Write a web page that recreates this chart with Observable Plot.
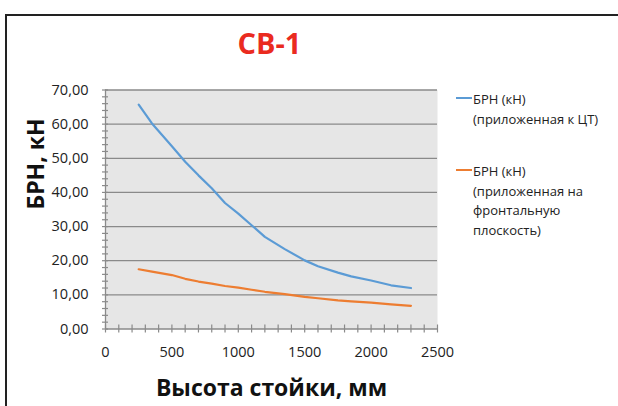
<!DOCTYPE html>
<html>
<head>
<meta charset="utf-8">
<script src="https://cdn.jsdelivr.net/npm/d3@7"></script>
<script src="https://cdn.jsdelivr.net/npm/@observablehq/plot@0.6"></script>
<style>
  html, body { margin: 0; padding: 0; background: #fff; overflow: hidden; }
  #wrap { position: relative; width: 618px; height: 406px; font-family: "Open Sans", "DejaVu Sans", sans-serif; }
  #border { position: absolute; left: 5px; top: 14px; width: 700px; height: 500px; border-left: 2px solid #222; border-top: 2px solid #222; box-sizing: border-box; }
  #chart { position: absolute; left: 0; top: 0; }
  #legend { position: absolute; left: 456px; top: 0; font-size: 13px; color: #222; line-height: 19.7px; }
  .item { position: absolute; left: 0; white-space: nowrap; }
  .swatch { position: absolute; left: 0; width: 16px; height: 0; border-top: 2px solid; }
  .txt { position: absolute; left: 17px; top: 0; }
</style>
</head>
<body>
<div id="wrap">
  <div id="border"></div>
  <div id="chart"></div>
  <div id="legend"></div>
</div>
<script>
// ---- data ----
const title = "СВ-1";
const xTitle = "Высота стойки, мм";
const yTitle = "БРН, кН";
const heights = [250, 350, 500, 600, 700, 800, 900, 1000, 1100, 1200, 1350, 1500, 1600, 1750, 1850, 2000, 2150, 2300];
const brnCT = [65.7, 60.2, 53.5, 49.0, 45.0, 41.2, 36.9, 33.8, 30.4, 27.0, 23.4, 20.1, 18.4, 16.5, 15.4, 14.2, 12.8, 12.0];
const brnFront = [17.5, 16.8, 15.8, 14.7, 13.9, 13.3, 12.6, 12.1, 11.5, 10.9, 10.2, 9.4, 9.0, 8.4, 8.1, 7.7, 7.2, 6.8];
const seriesNames = ["БРН (кН)\n(приложенная к ЦТ)", "БРН (кН)\n(приложенная на\nфронтальную\nплоскость)"];
const seriesColors = ["#5b9bd5", "#ed7d31"];
const xMajorTicks = [0, 500, 1000, 1500, 2000, 2500];
const xMinorTicks = d3.range(0, 2501, 100);
const yMajorTicks = [0, 10, 20, 30, 40, 50, 60, 70];
const yMinorTicks = d3.range(0, 71, 2);

const rows = [];
heights.forEach((h, i) => {
  rows.push({h, v: brnCT[i], s: seriesNames[0]});
});
heights.forEach((h, i) => {
  rows.push({h, v: brnFront[i], s: seriesNames[1]});
});

const gridColor = "#8a8a8a";
const fmtY = d => d.toFixed(2).replace(".", ",");

const chart = Plot.plot({
  width: 618,
  height: 406,
  marginLeft: 105,
  marginRight: 181,
  marginTop: 89.5,
  marginBottom: 77.5,
  style: {fontFamily: '"Open Sans", "DejaVu Sans", sans-serif', background: "transparent", color: "#222"},
  x: {domain: [0, 2500], axis: null},
  y: {domain: [0, 70], axis: null},
  color: {domain: seriesNames, range: seriesColors},
  marks: [
    Plot.frame({fill: "#e6e6e6", stroke: null}),
    Plot.gridY(yMajorTicks, {stroke: gridColor, strokeOpacity: 1, strokeWidth: 1.3}),
    Plot.ruleX([0], {stroke: gridColor, strokeWidth: 1.3}),
    Plot.axisY({ticks: yMinorTicks, tickSize: 6, dx: 3, tickFormat: () => "", label: null, stroke: gridColor, strokeWidth: 1.2}),
    Plot.axisX({ticks: xMinorTicks, tickSize: 8, dy: -4, tickFormat: () => "", label: null, stroke: gridColor, strokeWidth: 1.2}),
    Plot.axisY({ticks: yMajorTicks, tickSize: 0, tickPadding: 17, tickFormat: fmtY, label: null, fontSize: 14.5, fill: "#222"}),
    Plot.axisX({ticks: xMajorTicks, tickSize: 0, tickPadding: 18, tickFormat: d => String(d), label: null, fontSize: 14.5, fill: "#222"}),
    Plot.lineY(rows, {x: "h", y: "v", z: "s", stroke: "s", strokeWidth: 2.2}),
    Plot.text([xTitle], {frameAnchor: "bottom", lineAnchor: "bottom", dy: 66.5, fontSize: 23, fontWeight: "bold", fill: "#111"}),
    Plot.text([yTitle], {frameAnchor: "left", lineAnchor: "bottom", rotate: -90, dx: -62, fontSize: 23, fontWeight: "bold", fill: "#111"}),
    Plot.text([title], {frameAnchor: "top", lineAnchor: "bottom", dy: -36.2, dx: -2, fontSize: 29, fontWeight: "bold", fill: "#ea2b1f"})
  ]
});
document.getElementById("chart").appendChild(chart);

// legend
const legend = document.getElementById("legend");
const legendTops = [90, 162];
seriesNames.forEach((name, i) => {
  const item = document.createElement("div");
  item.className = "item";
  item.style.top = legendTops[i] + "px";
  const sw = document.createElement("div");
  sw.className = "swatch";
  sw.style.borderColor = seriesColors[i];
  sw.style.top = "7px";
  item.appendChild(sw);
  const t = document.createElement("div");
  t.className = "txt";
  t.style.whiteSpace = "pre";
  t.textContent = name;
  item.appendChild(t);
  legend.appendChild(item);
});
</script>
</body>
</html>
